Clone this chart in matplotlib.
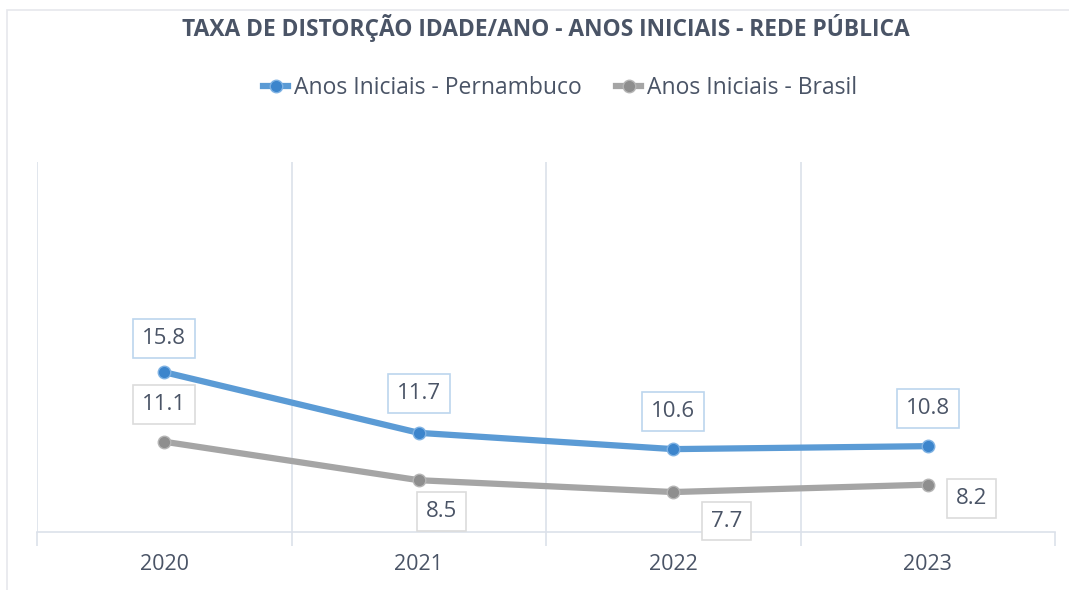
import matplotlib
matplotlib.use("Agg")
import matplotlib.pyplot as plt
from matplotlib.lines import Line2D
from matplotlib.patches import Rectangle

years = ["2020", "2021", "2022", "2023"]
pernambuco = [15.8, 11.7, 10.6, 10.8]
brasil = [11.1, 8.5, 7.7, 8.2]
title = "TAXA DE DISTORÇÃO IDADE/ANO - ANOS INICIAIS - REDE PÚBLICA"
legend_labels = ["Anos Iniciais - Pernambuco", "Anos Iniciais - Brasil"]

# label offsets in pixels (style only)
pe_offsets = [(0, 34), (0, 39), (0, 38), (0, 38)]
br_offsets = [(0, 37), (23, -31), (53, -29), (44, -14)]

FONT = "Open Sans"
TXT = "#4A5466"
BLUE_LINE = "#5B9BD5"
BLUE_MK = "#3C85CC"
GRAY_LINE = "#A5A5A5"
GRAY_MK = "#8E8E8E"
GRID = "#DCE1EA"

plt.rcParams["font.family"] = [FONT, "DejaVu Sans"]

fig = plt.figure(figsize=(10.69, 5.90), dpi=100)
fig.patch.set_facecolor("white")
# outer chart border
fig.patches.append(Rectangle((7 / 1069, -0.1), 1.2, 1 - 10 / 590 + 0.1,
                             transform=fig.transFigure, fill=False,
                             edgecolor="#E6E8EC", linewidth=1.2))

ax = fig.add_axes([37 / 1069, 1 - 532 / 590, (1055 - 37) / 1069, (532 - 162) / 590])
x = list(range(len(years)))

ax.plot(x, brasil, color=GRAY_LINE, lw=4.5, solid_capstyle="round", zorder=3)
ax.plot(x, brasil, "o", color=GRAY_MK, ms=9, mec="#B5B5B5", mew=1, zorder=4)
ax.plot(x, pernambuco, color=BLUE_LINE, lw=4.5, solid_capstyle="round", zorder=3)
ax.plot(x, pernambuco, "o", color=BLUE_MK, ms=9, mec="#7FB2E3", mew=1, zorder=4)

ax.set_xlim(-0.5, len(years) - 0.5)
ax.set_ylim(5, 30)
ax.set_yticks([])
ax.set_xticks(x)
ax.set_xticklabels(years, fontsize=15.5, color=TXT)
ax.tick_params(axis="x", which="major", length=0, pad=16)
ax.set_xticks([i - 0.5 for i in range(len(years) + 1)], minor=True)
ax.tick_params(axis="x", which="minor", length=10, width=1.2, color=GRID, direction="out")
for i in range(len(years)):
    ax.axvline(i - 0.5, color=GRID, lw=1.2, zorder=1)
for s in ["top", "right", "left"]:
    ax.spines[s].set_visible(False)
ax.spines["bottom"].set_color(GRID)
ax.spines["bottom"].set_linewidth(1.2)

for xi, v, off in zip(x, pernambuco, pe_offsets):
    ax.annotate(f"{v:.1f}", (xi, v), xytext=off, textcoords="offset pixels",
                ha="center", va="center", fontsize=16, color=TXT, zorder=5,
                bbox=dict(boxstyle="square,pad=0.4", fc="white", ec="#BCD6EE", lw=1.2))
for xi, v, off in zip(x, brasil, br_offsets):
    ax.annotate(f"{v:.1f}", (xi, v), xytext=off, textcoords="offset pixels",
                ha="center", va="center", fontsize=16, color=TXT, zorder=5,
                bbox=dict(boxstyle="square,pad=0.4", fc="white", ec="#DCDCDC", lw=1.2),
                annotation_clip=False)

fig.text(546 / 1069, 1 - 28 / 590, title, ha="center", va="center",
         fontsize=16.4, fontweight="bold", color=TXT)

handles = [
    Line2D([], [], color=BLUE_LINE, lw=4.5, marker="o", ms=9, mfc=BLUE_MK, mec="#7FB2E3"),
    Line2D([], [], color=GRAY_LINE, lw=4.5, marker="o", ms=9, mfc=GRAY_MK, mec="#B5B5B5"),
]
fig.legend(handles, legend_labels, loc="center", bbox_to_anchor=(560 / 1069, 1 - 88 / 590),
           ncol=2, frameon=False, fontsize=16.5, labelcolor=TXT, handlelength=1.1,
           handletextpad=0.25, columnspacing=1.5)

fig.savefig("out.png", dpi=100, facecolor="white")
